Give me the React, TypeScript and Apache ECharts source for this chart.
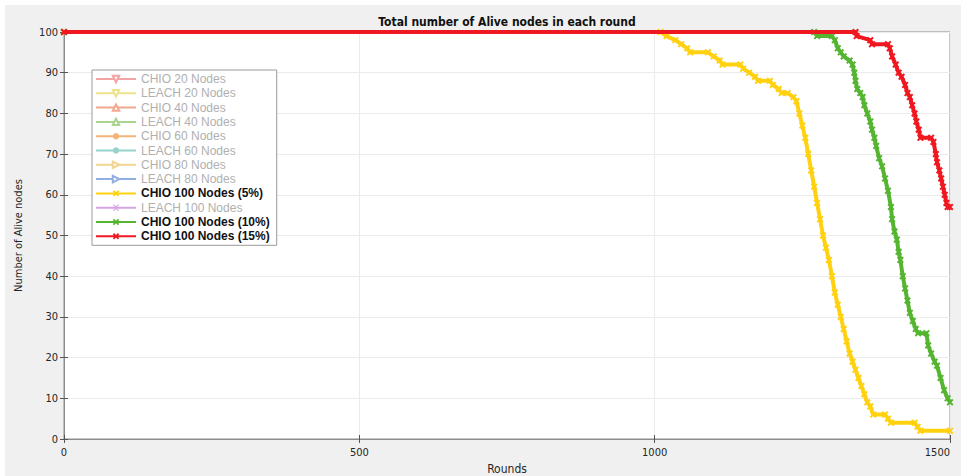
import React, { useEffect, useRef } from "react";
import * as echarts from "echarts";

// ---------- data ----------
const xTicks = [0, 500, 1000, 1500];
const yTicks = [0, 10, 20, 30, 40, 50, 60, 70, 80, 90, 100];

const chio100_5: [number, number][] = [
  [0, 100], [1010, 100], [1020, 99], [1035, 98], [1045, 97], [1055, 96], [1060, 95], [1090, 95],
  [1100, 94], [1110, 93], [1115, 92], [1145, 92], [1150, 91], [1160, 90], [1170, 89], [1175, 88],
  [1195, 88], [1200, 87], [1210, 86], [1215, 85], [1225, 85], [1235, 84], [1240, 83], [1245, 80],
  [1250, 77], [1255, 74], [1260, 70], [1265, 66], [1270, 62], [1275, 58], [1280, 54], [1285, 50],
  [1290, 47], [1295, 44], [1300, 40], [1305, 36], [1310, 33], [1315, 30], [1320, 27], [1325, 24],
  [1330, 21], [1335, 19], [1340, 17], [1345, 15], [1350, 13], [1355, 11], [1360, 9], [1365, 8],
  [1370, 6], [1390, 6], [1395, 5], [1400, 4], [1440, 4], [1445, 3], [1450, 2], [1500, 2],
];

const chio100_10: [number, number][] = [
  [0, 100], [1270, 100], [1275, 99], [1300, 99], [1305, 98], [1310, 96], [1315, 95], [1320, 94],
  [1330, 93], [1335, 92], [1338, 90], [1340, 88], [1343, 86], [1348, 85], [1352, 84], [1355, 82],
  [1360, 80], [1365, 78], [1368, 76], [1372, 74], [1375, 72], [1380, 69], [1385, 67], [1390, 64],
  [1395, 61], [1400, 57], [1402, 54], [1406, 51], [1410, 49], [1413, 46], [1416, 44], [1420, 40],
  [1424, 37], [1428, 34], [1432, 31], [1437, 29], [1442, 27], [1446, 26], [1460, 26], [1463, 23],
  [1468, 21], [1474, 19], [1478, 18], [1484, 15], [1490, 12], [1496, 10], [1500, 9],
];

const chio100_15: [number, number][] = [
  [0, 100], [1340, 100], [1342, 99], [1365, 98], [1368, 97], [1395, 97], [1398, 96], [1402, 94],
  [1408, 92], [1413, 90], [1418, 89], [1424, 87], [1428, 85], [1432, 84], [1436, 82], [1440, 80],
  [1443, 78], [1447, 76], [1450, 74], [1468, 74], [1472, 73], [1476, 70], [1478, 68], [1482, 66],
  [1485, 64], [1488, 62], [1491, 60], [1494, 58], [1496, 57], [1500, 57],
];

const legendNames = [
  "CHIO 20 Nodes", "LEACH 20 Nodes", "CHIO 40 Nodes", "LEACH 40 Nodes",
  "CHIO 60 Nodes", "LEACH 60 Nodes", "CHIO 80 Nodes", "LEACH 80 Nodes",
  "CHIO 100 Nodes (5%)", "LEACH 100 Nodes", "CHIO 100 Nodes (10%)", "CHIO 100 Nodes (15%)",
];

const X_PATH = "path://M0,2L2,0L5,3L8,0L10,2L7,5L10,8L8,10L5,7L2,10L0,8L3,5Z";

export default function App() {
  const ref = useRef<HTMLDivElement>(null);
  useEffect(() => {
    document.body.style.margin = "0";
    const chart = echarts.init(ref.current!, undefined, { renderer: "svg" });
    const font = "'Liberation Sans Narrow', 'DejaVu Sans Condensed', 'Liberation Sans', Arial, sans-serif";
    const legFont = "'Liberation Sans', Arial, sans-serif";

    const faded = [
      { name: legendNames[0], color: "#f3a3a3", symbol: "emptyTriangle", rotate: 180, size: 7 },
      { name: legendNames[1], color: "#efe28a", symbol: "emptyTriangle", rotate: 180, size: 7 },
      { name: legendNames[2], color: "#f2a88e", symbol: "emptyTriangle", rotate: 0, size: 7 },
      { name: legendNames[3], color: "#aad58f", symbol: "emptyTriangle", rotate: 0, size: 7 },
      { name: legendNames[4], color: "#f3b47a", symbol: "circle", rotate: 0, size: 2 },
      { name: legendNames[5], color: "#96d3cc", symbol: "circle", rotate: 0, size: 2 },
      { name: legendNames[6], color: "#f2d68f", symbol: "emptyTriangle", rotate: -90, size: 7 },
      { name: legendNames[7], color: "#93aee3", symbol: "emptyTriangle", rotate: -90, size: 7 },
    ];

    const emptySeries = (f: any) => ({
      type: "line",
      name: f.name,
      data: [],
      symbol: f.symbol,
      symbolSize: f.size,
      symbolRotate: f.rotate,
      itemStyle: { color: f.color },
      lineStyle: { color: f.color, width: 1 },
    });

    const mainSeries = (name: string, data: [number, number][], color: string, z: number) => ({
      type: "line",
      name,
      data,
      clip: false,
      z,
      symbol: X_PATH,
      symbolSize: 7,
      showAllSymbol: true,
      itemStyle: { color },
      lineStyle: { color, width: 4 },
    });

    const legendData = legendNames.map((n, i) => {
      const active = i === 8 || i === 10 || i === 11;
      return {
        name: n,
        textStyle: active
          ? { color: "#111111", fontWeight: "bold" as const }
          : { color: "#b0b0b0" },
      };
    });

    chart.setOption({
      animation: false,
      backgroundColor: "#ffffff",
      textStyle: { fontFamily: font },
      graphic: [
        {
          type: "rect",
          z: -100,
          silent: true,
          shape: { x: 5, y: 5, width: 960, height: 475 },
          style: { fill: "#f0f0f0" },
        },
        {
          type: "text",
          x: 507,
          y: 22,
          z: 100,
          style: {
            text: "Total number of Alive nodes in each round",
            fill: "#111111",
            font: `bold 12px ${font}`,
            align: "center",
            verticalAlign: "middle",
          },
        },
      ],
      legend: {
        orient: "vertical",
        left: 92,
        top: 70,
        padding: [3, 7, 3, 3],
        itemWidth: 40,
        itemHeight: 8,
        itemGap: 2.3,
        backgroundColor: "#ffffff",
        borderColor: "#9a9a9a",
        borderWidth: 1,
        borderRadius: 0,
        selectedMode: false,
        textStyle: { fontFamily: legFont, fontSize: 12, lineHeight: 12 },
        data: legendData,
      },
      grid: {
        left: 64,
        right: 11,
        top: 32,
        bottom: 37,
        containLabel: false,
        outerBoundsMode: "none",
        show: true,
        backgroundColor: "#ffffff",
        borderColor: "#8c8c8c",
        borderWidth: 1,
      },
      xAxis: [
        {
          type: "value",
          min: 0,
          max: 1500,
          interval: 500,
          name: "Rounds",
          nameLocation: "middle",
          nameGap: 23,
          nameTextStyle: { color: "#262626", fontSize: 12, fontFamily: font },
          axisLine: { show: true, lineStyle: { color: "#8c8c8c" } },
          axisTick: { show: true, inside: true, length: 4, lineStyle: { color: "#555" } },
          axisLabel: {
            color: "#262626",
            fontSize: 11,
            margin: 8,
            alignMaxLabel: "right",
            formatter: (v: number) => (xTicks.includes(v) ? String(v) : ""),
          },
          splitLine: { show: true, lineStyle: { color: "#ebebeb", width: 1 } },
        },
        {
          type: "value",
          position: "top",
          min: 0,
          max: 1500,
          interval: 500,
          axisLine: { show: false },
          axisTick: { show: true, inside: true, length: 4, lineStyle: { color: "#555" } },
          axisLabel: { show: false },
          splitLine: { show: false },
        },
      ],
      yAxis: [
        {
          type: "value",
          min: 0,
          max: 100,
          interval: 10,
          name: "Number of Alive nodes",
          nameLocation: "middle",
          nameGap: 40,
          nameRotate: 90,
          nameTextStyle: { color: "#262626", fontSize: 11, fontFamily: font },
          axisLine: { show: true, lineStyle: { color: "#8c8c8c" } },
          axisTick: { show: true, inside: true, length: 4, lineStyle: { color: "#555" } },
          axisLabel: {
            color: "#262626",
            fontSize: 11,
            margin: 6,
            formatter: (v: number) => (yTicks.includes(v) ? String(v) : ""),
          },
          splitLine: { show: true, lineStyle: { color: "#ebebeb", width: 1 } },
        },
        {
          type: "value",
          position: "right",
          min: 0,
          max: 100,
          interval: 10,
          axisLine: { show: false },
          axisTick: { show: true, inside: true, length: 4, lineStyle: { color: "#555" } },
          axisLabel: { show: false },
          splitLine: { show: false },
        },
      ],
      series: [
        ...faded.map(emptySeries),
        mainSeries(legendNames[8], chio100_5, "#ffd10f", 3),
        {
          type: "line",
          name: legendNames[9],
          data: [],
          symbol: "path://M0,0L2,0L5,3L8,0L10,0L6,5L10,10L8,10L5,7L2,10L0,10L4,5Z",
          symbolSize: 6,
          itemStyle: { color: "#d5a6e2" },
          lineStyle: { color: "#d5a6e2", width: 1 },
        },
        mainSeries(legendNames[10], chio100_10, "#55b531", 4),
        mainSeries(legendNames[11], chio100_15, "#f01820", 5),
      ],
    });
    return () => chart.dispose();
  }, []);
  return (
    <div
      ref={ref}
      style={{ position: "absolute", left: 0, top: 0, width: 961, height: 476 }}
    />
  );
}
